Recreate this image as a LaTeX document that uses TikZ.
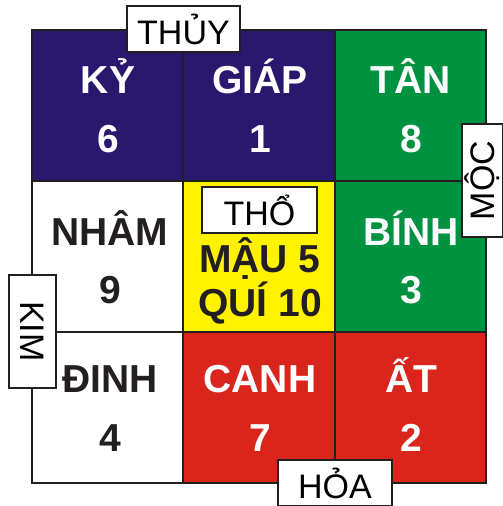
\documentclass[tikz,border=0pt]{standalone}
\usepackage{fontspec}
\setmainfont{Liberation Sans}
\definecolor{navy}{RGB}{42,24,110}
\definecolor{grn}{RGB}{0,146,64}
\definecolor{rd}{RGB}{218,37,29}
\definecolor{yl}{RGB}{255,242,0}
\definecolor{ink}{RGB}{35,31,32}
\begin{document}
\begin{tikzpicture}[x=1pt,y=-1pt,
  cell/.style={draw=ink,line width=2pt,minimum width=151.5pt,minimum height=151pt,inner sep=0pt},
  big/.style={font=\fontsize{39}{39}\selectfont\bfseries,anchor=base,inner sep=0pt},
  lbl/.style={draw=ink,fill=white,line width=1.6pt,font=\fontsize{34}{34}\selectfont,inner sep=0pt}]
\useasboundingbox (0,0) rectangle (503,506);
% cells
\node[cell,fill=navy] (c11) at (107.5,105) {};
\node[cell,fill=navy] (c12) at (259,105) {};
\node[cell,fill=grn]  (c13) at (410.5,105) {};
\node[cell,fill=white] (c21) at (107.5,256) {};
\node[cell,fill=yl]   (c22) at (259,256) {};
\node[cell,fill=grn]  (c23) at (410.5,256) {};
\node[cell,fill=white] (c31) at (107.5,407) {};
\node[cell,fill=rd]   (c32) at (259,407) {};
\node[cell,fill=rd]   (c33) at (410.5,407) {};
% texts
\node[big,white] (t11) at (108,93) {KỶ};
\node[big,white] (n11) at (108,152) {6};
\node[big,white] (t12) at (260,93) {GIÁP};
\node[big,white] (n12) at (260,152) {1};
\node[big,white] (t13) at (411,93) {TÂN};
\node[big,white] (n13) at (411,152) {8};
\node[big,ink] (t21) at (110,245) {NHÂM};
\node[big,ink] (n21) at (110,303) {9};
\node[big,white] (t23) at (411,245) {BÍNH};
\node[big,white] (n23) at (411,303) {3};
\node[big,ink] (t31) at (110,392) {ĐINH};
\node[big,ink] (n31) at (110,451) {4};
\node[big,white] (t32) at (260,392) {CANH};
\node[big,white] (n32) at (260,451) {7};
\node[big,white] (t33) at (411,392) {ẤT};
\node[big,white] (n33) at (411,451) {2};
\node[big,ink] (m1) at (260,272) {MẬU 5};
\node[big,ink] (m2) at (260,316) {QUÍ 10};
% labels
\node[lbl,minimum width=113pt,minimum height=46pt] (thuy) at (183.5,29) {THỦY};
\node[lbl,minimum width=115pt,minimum height=46pt] (tho) at (259.5,210) {THỔ};
\node[lbl,minimum width=113pt,minimum height=41pt,rotate=90] (moc) at (482.5,180.5) {MỘC};
\node[lbl,minimum width=113pt,minimum height=47pt,rotate=-90] (kim) at (32.5,331.5) {KIM};
\node[lbl,minimum width=114pt,minimum height=46pt] (hoa) at (335,483) {HỎA};
\end{tikzpicture}
\end{document}
